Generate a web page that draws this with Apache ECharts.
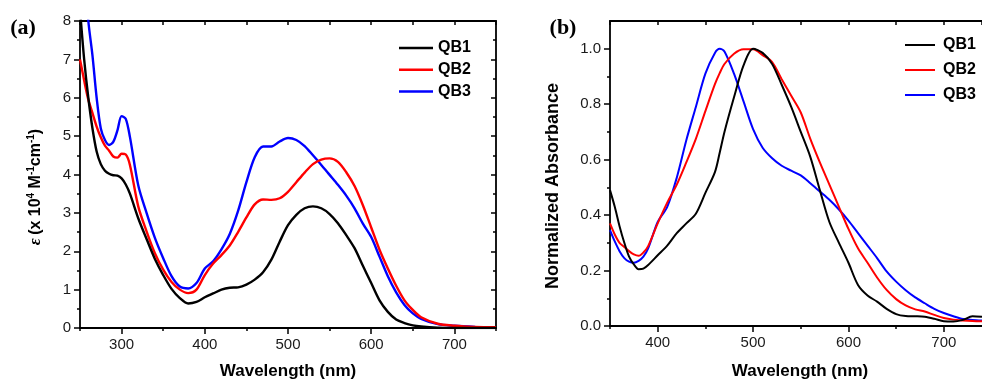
<!DOCTYPE html>
<html><head><meta charset="utf-8">
<script src="https://cdn.jsdelivr.net/npm/echarts@6/dist/echarts.min.js"></script>
<style>html,body{margin:0;padding:0;background:#fff}#c{width:982px;height:380px}</style>
</head><body><div id="c"></div>
<script>
const seriesNames = ['QB1', 'QB2', 'QB3'];
const seriesColors = ['#000000', '#ff0000', '#0000ff'];

// Panel (a): molar absorptivity (x 10^4 M^-1 cm^-1)
const wavelengthA = [250,255,260,265,270,275,280,285,290,295,300,305,310,320,330,340,350,360,370,380,390,400,410,420,430,440,450,460,470,480,490,500,510,520,530,540,550,560,570,580,590,600,610,620,630,640,650,660,680,700,725,750];
const qb1A = [8.3,7.0,6.0,5.2,4.6,4.27,4.1,4.02,3.98,3.97,3.9,3.74,3.5,2.86,2.32,1.8,1.38,1.02,0.78,0.64,0.68,0.8,0.9,1.0,1.05,1.06,1.13,1.26,1.45,1.78,2.25,2.68,2.95,3.12,3.17,3.12,2.97,2.73,2.42,2.08,1.62,1.17,0.72,0.42,0.22,0.13,0.07,0.04,0.01,0,0,0];
const qb2A = [7.0,6.45,5.95,5.6,5.25,4.97,4.75,4.62,4.47,4.44,4.54,4.52,4.25,3.17,2.52,1.95,1.52,1.2,1.0,0.91,1.0,1.38,1.68,1.9,2.15,2.5,2.88,3.22,3.35,3.34,3.38,3.55,3.8,4.05,4.27,4.39,4.42,4.33,4.06,3.7,3.2,2.62,2.04,1.55,1.1,0.72,0.47,0.28,0.11,0.06,0.03,0.02];
const qb3A = [11.0,9.4,8.0,7.1,6.0,5.2,4.9,4.77,4.85,5.15,5.52,5.45,4.98,3.72,3.0,2.35,1.82,1.35,1.08,1.03,1.17,1.55,1.74,2.05,2.45,3.05,3.8,4.45,4.73,4.73,4.86,4.95,4.9,4.74,4.5,4.25,3.99,3.73,3.45,3.12,2.72,2.37,1.86,1.35,0.93,0.6,0.38,0.24,0.1,0.06,0.03,0.01];

// Panel (b): normalized absorbance
const wavelengthB = [350,355,360,365,370,375,380,385,390,400,410,420,430,440,450,460,465,470,480,490,500,510,520,530,540,550,560,570,580,590,600,610,620,630,640,650,660,670,680,690,700,710,720,730,740];
const qb1B = [0.49,0.43,0.36,0.3,0.25,0.222,0.205,0.207,0.22,0.255,0.29,0.335,0.37,0.405,0.48,0.555,0.625,0.7,0.825,0.94,1.0,0.985,0.945,0.87,0.79,0.7,0.61,0.49,0.375,0.3,0.228,0.148,0.11,0.088,0.062,0.043,0.036,0.035,0.033,0.026,0.017,0.016,0.022,0.035,0.033];
const qb2B = [0.37,0.33,0.3,0.285,0.27,0.258,0.253,0.265,0.288,0.37,0.445,0.51,0.59,0.675,0.775,0.872,0.912,0.945,0.982,0.998,0.998,0.977,0.952,0.89,0.83,0.77,0.675,0.59,0.51,0.43,0.35,0.28,0.228,0.175,0.13,0.097,0.074,0.06,0.052,0.04,0.029,0.023,0.02,0.018,0.017];
const qb3B = [0.346,0.305,0.27,0.245,0.232,0.228,0.235,0.25,0.28,0.375,0.43,0.535,0.67,0.79,0.91,0.985,1.0,0.99,0.91,0.81,0.71,0.643,0.605,0.578,0.56,0.543,0.515,0.485,0.455,0.42,0.38,0.335,0.29,0.245,0.197,0.16,0.129,0.103,0.082,0.062,0.047,0.035,0.025,0.022,0.02];

// Tick values
const xTicksA = [300,400,500,600,700];
const xMinorA = [250,350,450,550,650,750];
const xTicksB = [400,500,600,700];
const xMinorB = [350,450,550,650];
const yTicksB = [0,0.2,0.4,0.6,0.8,1.0];
const yMinorB = [0.1,0.3,0.5,0.7,0.9];

const FONT = '"Liberation Sans", Arial, sans-serif';
const lineCol = '#000';
const tickLS = {color: lineCol, width: 1.5};
const axLine = {show: true, onZero: false, lineStyle: {color: lineCol, width: 1.8}};
const lbl = {fontFamily: FONT, fontSize: 15, color: '#1a1a1a'};

function pairs(xs, ys) { return xs.map((x, i) => [x, ys[i]]); }

const chart = echarts.init(document.getElementById('c'), null, {renderer: 'canvas'});

const xAxes = [
  // panel a
  {gridIndex:0, type:'value', min:250, max:750, position:'bottom', axisLine:axLine,
   axisTick:{show:true, customValues:xTicksA, length:6, lineStyle:tickLS},
   axisLabel:Object.assign({show:true, customValues:xTicksA, margin:9}, lbl), splitLine:{show:false}},
  {gridIndex:0, type:'value', min:250, max:750, position:'bottom', axisLine:{show:false},
   axisTick:{show:true, customValues:xMinorA, length:3, lineStyle:tickLS}, axisLabel:{show:false}, splitLine:{show:false}},
  {gridIndex:0, type:'value', min:250, max:750, interval:50, position:'top', axisLine:axLine,
   axisTick:{show:true, inside:true, length:4, lineStyle:tickLS}, axisLabel:{show:false}, splitLine:{show:false}},
  // panel b
  {gridIndex:1, type:'value', min:350, max:740, position:'bottom', axisLine:axLine,
   axisTick:{show:true, customValues:xTicksB, length:6, lineStyle:tickLS},
   axisLabel:Object.assign({show:true, customValues:xTicksB, margin:9}, lbl), splitLine:{show:false}},
  {gridIndex:1, type:'value', min:350, max:740, position:'bottom', axisLine:{show:false},
   axisTick:{show:true, customValues:xMinorB, length:3, lineStyle:tickLS}, axisLabel:{show:false}, splitLine:{show:false}},
  {gridIndex:1, type:'value', min:350, max:740, interval:50, position:'top', axisLine:axLine,
   axisTick:{show:true, inside:true, length:4, lineStyle:tickLS}, axisLabel:{show:false}, splitLine:{show:false}}
];

const yAxes = [
  {gridIndex:0, type:'value', min:0, max:8, interval:1, position:'left', axisLine:axLine,
   axisTick:{show:true, length:6, lineStyle:tickLS},
   minorTick:{show:true, splitNumber:2, length:3, lineStyle:tickLS},
   axisLabel:Object.assign({show:true, margin:9}, lbl), splitLine:{show:false}, minorSplitLine:{show:false}},
  {gridIndex:0, type:'value', min:0, max:8, interval:1, position:'right', axisLine:axLine,
   axisTick:{show:true, inside:true, length:5, lineStyle:tickLS},
   minorTick:{show:true, splitNumber:2, length:3, lineStyle:tickLS},
   axisLabel:{show:false}, splitLine:{show:false}},
  {gridIndex:1, type:'value', min:0, max:1.1, position:'left', axisLine:axLine,
   axisTick:{show:true, customValues:yTicksB, length:6, lineStyle:tickLS},
   axisLabel:Object.assign({show:true, customValues:yTicksB, margin:9, formatter:(v)=>Number(v).toFixed(1)}, lbl),
   splitLine:{show:false}},
  {gridIndex:1, type:'value', min:0, max:1.1, position:'left', axisLine:{show:false},
   axisTick:{show:true, customValues:yMinorB, length:3, lineStyle:tickLS}, axisLabel:{show:false}, splitLine:{show:false}}
];

const dataA = [qb1A, qb2A, qb3A];
const dataB = [qb1B, qb2B, qb3B];
const series = [];
seriesNames.forEach((n, i) => {
  series.push({name:n, type:'line', xAxisIndex:0, yAxisIndex:0, data:pairs(wavelengthA, dataA[i]),
    showSymbol:false, symbol:'none', smooth:0.3, clip:true, z: 10 - i,
    lineStyle:{color:seriesColors[i], width:2.4}, itemStyle:{color:seriesColors[i]}});
});
seriesNames.forEach((n, i) => {
  series.push({name:n, type:'line', xAxisIndex:3, yAxisIndex:2, data:pairs(wavelengthB, dataB[i]),
    showSymbol:false, symbol:'none', smooth:0.3, clip:true, z: 10 - i,
    lineStyle:{color:seriesColors[i], width:2}, itemStyle:{color:seriesColors[i]}});
});

const legendText = {fontFamily: FONT, fontSize: 16, fontWeight: 'bold', color: '#000', lineHeight: 16};

chart.setOption({
  animation: false,
  backgroundColor: '#fff',
  grid: [
    {left: 80, top: 21, width: 416, height: 307, containLabel: false},
    {left: 610, top: 21, width: 374, height: 305, containLabel: false}
  ],
  xAxis: xAxes,
  yAxis: yAxes,
  legend: [
    {data: seriesNames, orient: 'vertical', left: 399, top: 40, padding: 0, icon: 'path://M0,0H136V10H0Z',
     itemWidth: 34, itemHeight: 2.5, itemGap: 5.7, selectedMode: false, textStyle: legendText},
    {data: seriesNames, orient: 'vertical', left: 905, top: 37, padding: 0, icon: 'path://M0,0H150V10H0Z',
     itemWidth: 30, itemHeight: 2, itemGap: 9, selectedMode: false, textStyle: Object.assign({padding:[0,0,0,3]}, legendText)}
  ],
  graphic: [
    {type:'text', x: 23, y: 28, style:{text:'(a)', font:'bold 22px "Liberation Serif", "Times New Roman", serif', fill:'#000', align:'center', verticalAlign:'middle'}},
    {type:'text', x: 563, y: 28, style:{text:'(b)', font:'bold 22px "Liberation Serif", "Times New Roman", serif', fill:'#000', align:'center', verticalAlign:'middle'}},
    {type:'text', x: 35, y: 187, rotation: Math.PI / 2,
     style:{text:'{e|ε} {t|(x 10}{s|4}{t| M}{s|-1}{t|cm}{s|-1}{t|)}', align:'center', verticalAlign:'middle',
       rich:{
         e:{font:'italic bold 17px "Liberation Serif", serif', fill:'#000', lineHeight:18, verticalAlign:'bottom'},
         t:{font:'bold 16px ' + FONT, fill:'#000', lineHeight:18, verticalAlign:'bottom'},
         s:{font:'bold 10px ' + FONT, fill:'#000', lineHeight:18, verticalAlign:'top'}
       }}},
    {type:'text', x: 288, y: 371, style:{text:'Wavelength (nm)', font:'bold 17px ' + FONT, fill:'#000', align:'center', verticalAlign:'middle'}},
    {type:'text', x: 800, y: 371, style:{text:'Wavelength (nm)', font:'bold 17px ' + FONT, fill:'#000', align:'center', verticalAlign:'middle'}},
    {type:'text', x: 553, y: 186, rotation: Math.PI / 2,
     style:{text:'Normalized Absorbance', font:'bold 18px ' + FONT, fill:'#000', align:'center', verticalAlign:'middle'}}
  ],
  series: series
});
</script>
</body></html>
